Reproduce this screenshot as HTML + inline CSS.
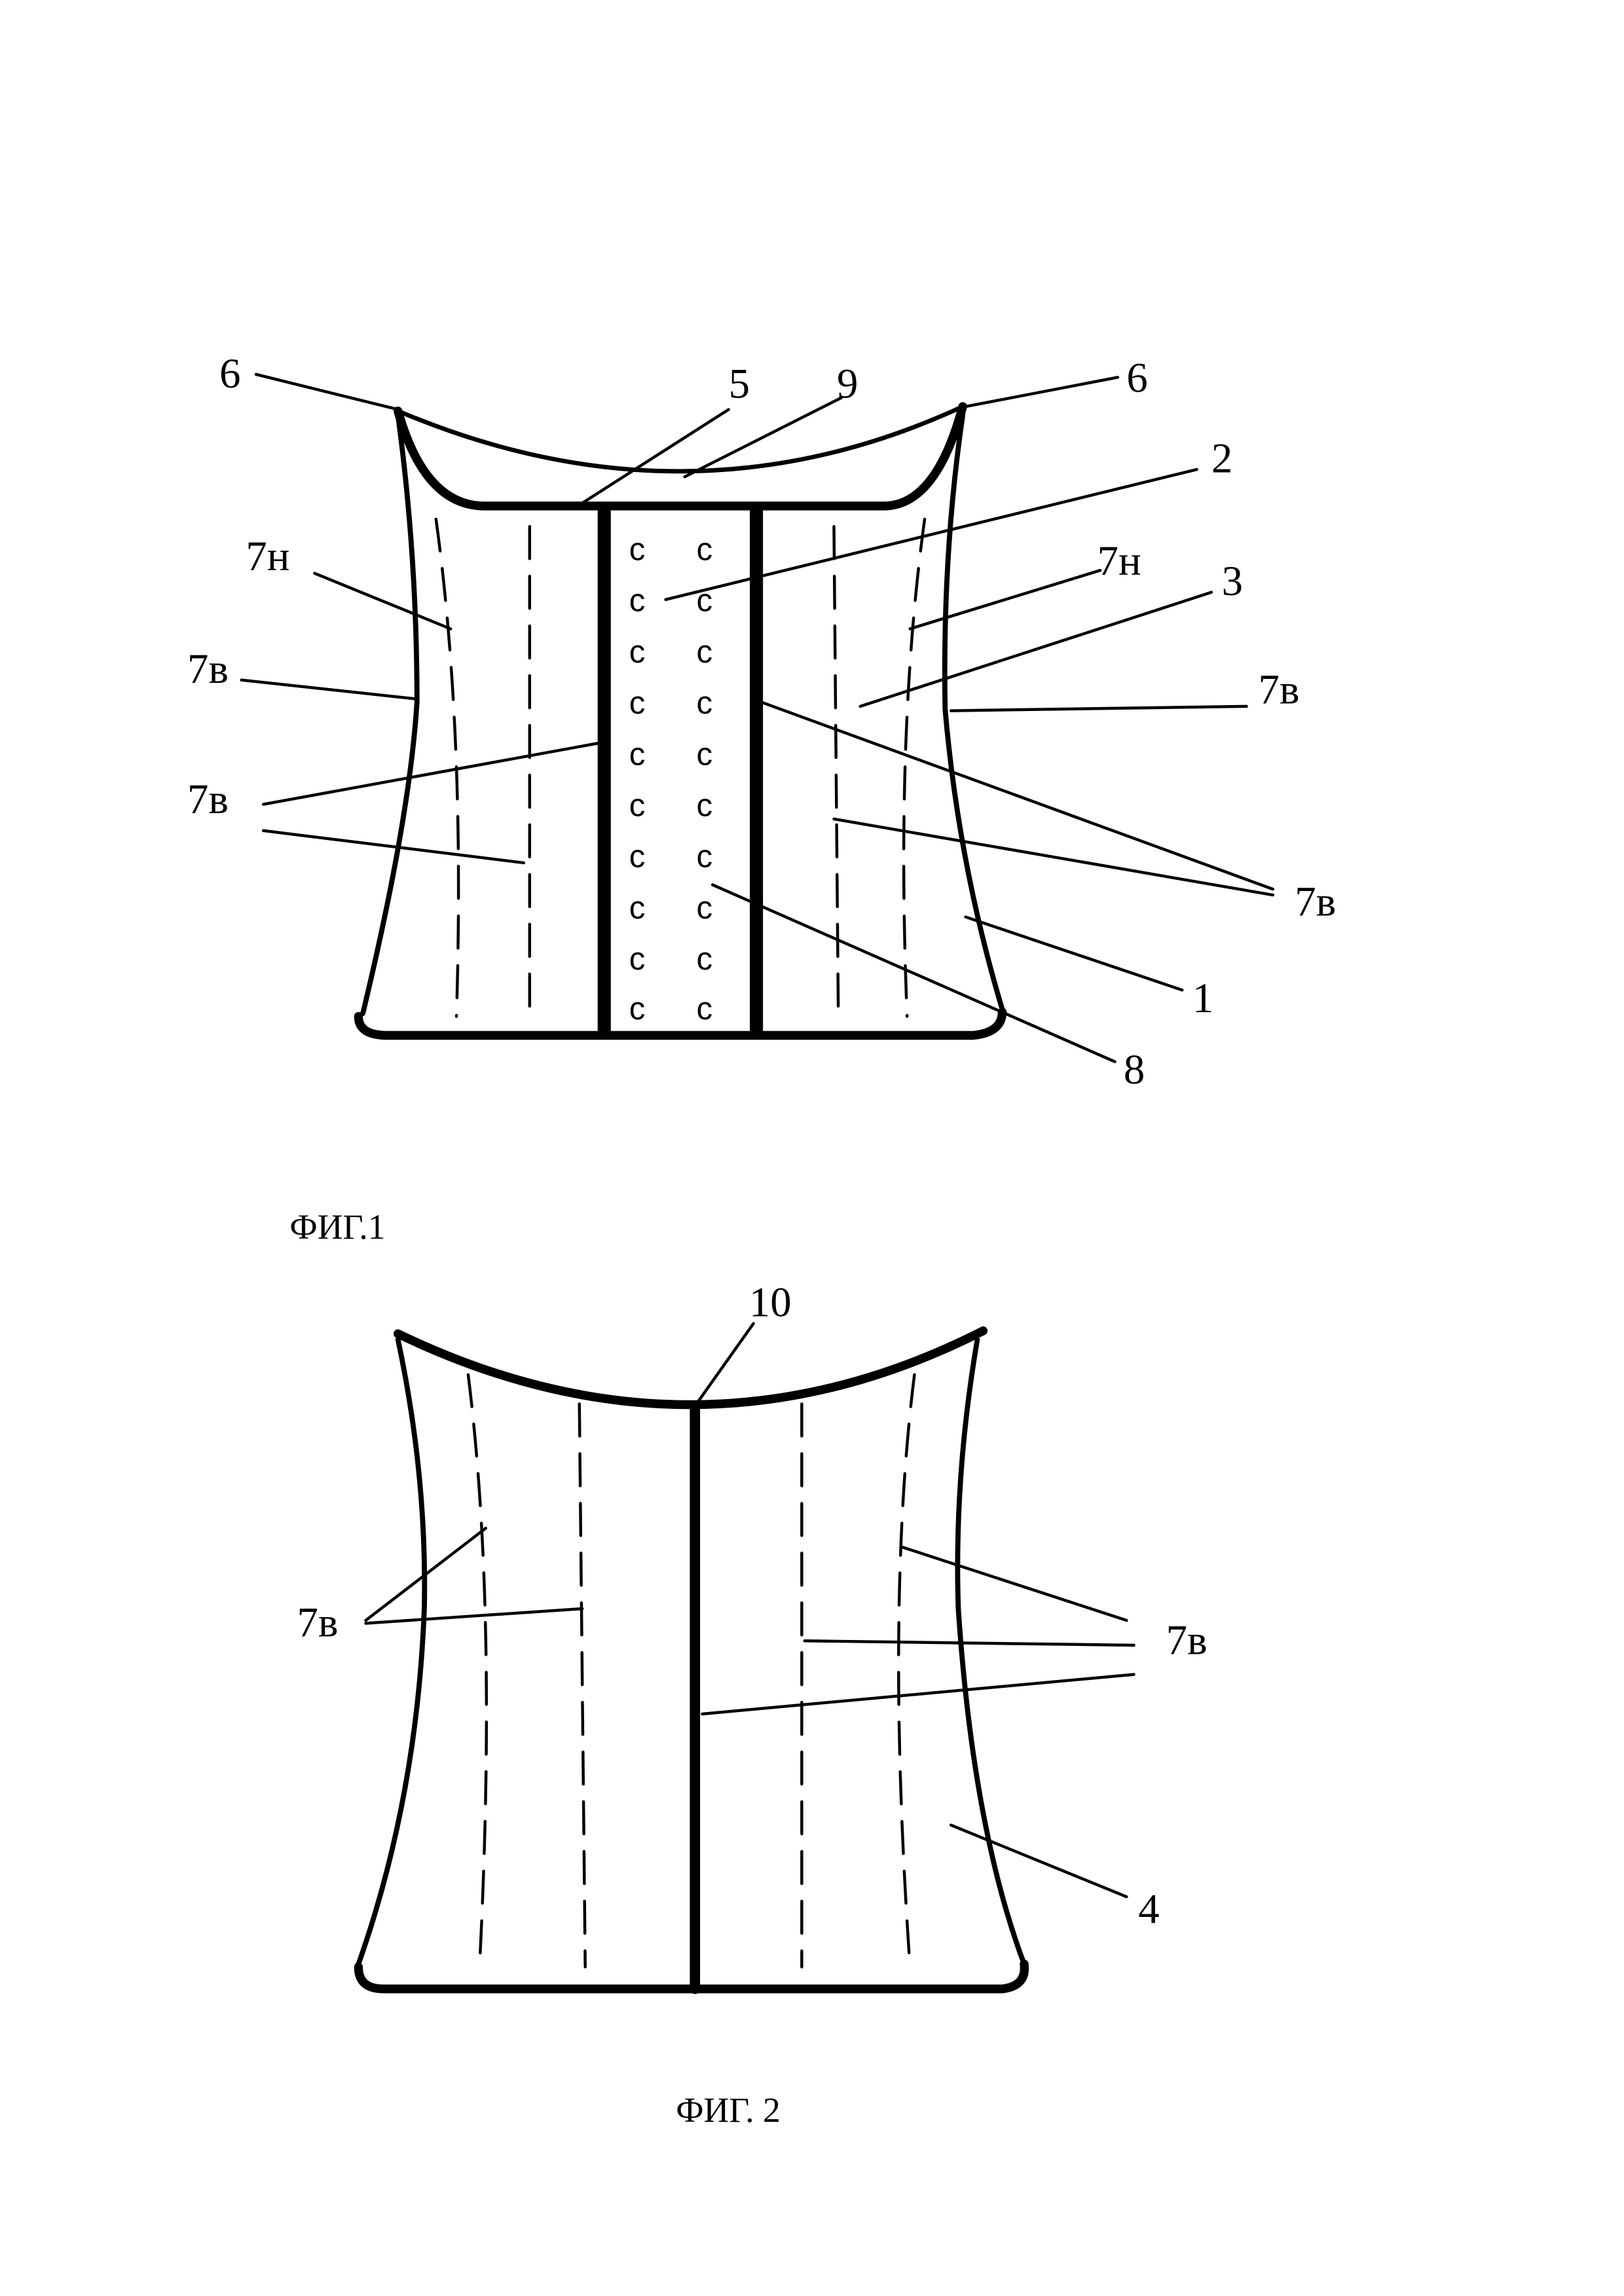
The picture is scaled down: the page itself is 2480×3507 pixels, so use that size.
<!DOCTYPE html>
<html><head><meta charset="utf-8"><style>
html,body{margin:0;padding:0;background:#fff;}
svg{display:block;}
text{font-family:"Liberation Serif",serif;font-size:29px;fill:#000;}
</style></head><body>
<svg width="2480" height="3507" viewBox="0 0 1110 1570" preserveAspectRatio="none" xmlns="http://www.w3.org/2000/svg">
<rect width="1110" height="1570" fill="#fff"/>
<g fill="none" stroke="#000" stroke-linecap="round" stroke-linejoin="round">
<!-- FIG 1 -->
<path d="M272,281 Q470,365 658,278" stroke-width="3"/>
<path d="M272,281 Q290,345 330,346 L605,346 Q640,345 658,278" stroke-width="6"/>
<path d="M272,284 Q285,380 285,480 Q280,560 248,693" stroke-width="3.5"/>
<path d="M658,284 Q644,380 646,485 Q655,590 685,690" stroke-width="3.5"/>
<path d="M245,695 Q245,708 265,708 L665,708 Q685,706 685,692" stroke-width="6"/>
<line x1="413" y1="350" x2="413" y2="705" stroke-width="9"/>
<line x1="517" y1="350" x2="517" y2="705" stroke-width="9"/>
<g stroke-width="2" stroke-dasharray="22,12">
<path d="M298,355 Q318,500 312,695"/>
<path d="M362,360 L362,695"/>
<path d="M570,360 L573,695"/>
<path d="M632,355 Q612,500 620,695"/>
</g>
<g stroke-width="2">
<line x1="175" y1="256" x2="272" y2="280"/>
<line x1="498" y1="280" x2="398" y2="344"/>
<line x1="575" y1="272" x2="468" y2="326"/>
<line x1="764" y1="258" x2="660" y2="278"/>
<line x1="818" y1="321" x2="455" y2="410"/>
<line x1="215" y1="392" x2="308" y2="430"/>
<line x1="752" y1="390" x2="622" y2="430"/>
<line x1="828" y1="405" x2="588" y2="483"/>
<line x1="165" y1="465" x2="285" y2="478"/>
<line x1="852" y1="483" x2="650" y2="486"/>
<line x1="180" y1="550" x2="410" y2="508"/>
<line x1="180" y1="568" x2="358" y2="590"/>
<line x1="870" y1="608" x2="520" y2="480"/>
<line x1="870" y1="612" x2="570" y2="560"/>
<line x1="808" y1="677" x2="660" y2="627"/>
<line x1="762" y1="726" x2="487" y2="605"/>
</g>
<!-- FIG 2 -->
<path d="M272,912 Q475,1010 672,910" stroke-width="6"/>
<path d="M272,916 Q292,1010 290,1100 Q285,1230 245,1343" stroke-width="3.5"/>
<path d="M668,916 Q652,1010 655,1100 Q665,1250 700,1343" stroke-width="3.5"/>
<path d="M245,1345 Q245,1360 262,1360 L685,1360 Q702,1358 700,1343" stroke-width="6"/>
<line x1="475" y1="963" x2="475" y2="1360" stroke-width="7"/>
<g stroke-width="2" stroke-dasharray="22,12">
<path d="M320,940 Q340,1100 328,1340"/>
<path d="M396,960 L400,1345"/>
<path d="M548,960 L548,1345"/>
<path d="M625,940 Q605,1100 622,1345"/>
</g>
<g stroke-width="2">
<line x1="515" y1="905" x2="476" y2="960"/>
<line x1="250" y1="1108" x2="332" y2="1045"/>
<line x1="250" y1="1110" x2="398" y2="1100"/>
<line x1="770" y1="1108" x2="617" y2="1058"/>
<line x1="775" y1="1125" x2="550" y2="1122"/>
<line x1="775" y1="1145" x2="480" y2="1172"/>
<line x1="770" y1="1297" x2="650" y2="1248"/>
</g>
</g>
<!-- hooks -->
<g font-family="Liberation Sans, sans-serif">
<text x="430" y="383" style="font-size:22px;font-family:'Liberation Sans',sans-serif">c</text><text x="476" y="383" style="font-size:22px;font-family:'Liberation Sans',sans-serif">c</text>
<text x="430" y="418" style="font-size:22px;font-family:'Liberation Sans',sans-serif">c</text><text x="476" y="418" style="font-size:22px;font-family:'Liberation Sans',sans-serif">c</text>
<text x="430" y="453" style="font-size:22px;font-family:'Liberation Sans',sans-serif">c</text><text x="476" y="453" style="font-size:22px;font-family:'Liberation Sans',sans-serif">c</text>
<text x="430" y="488" style="font-size:22px;font-family:'Liberation Sans',sans-serif">c</text><text x="476" y="488" style="font-size:22px;font-family:'Liberation Sans',sans-serif">c</text>
<text x="430" y="523" style="font-size:22px;font-family:'Liberation Sans',sans-serif">c</text><text x="476" y="523" style="font-size:22px;font-family:'Liberation Sans',sans-serif">c</text>
<text x="430" y="558" style="font-size:22px;font-family:'Liberation Sans',sans-serif">c</text><text x="476" y="558" style="font-size:22px;font-family:'Liberation Sans',sans-serif">c</text>
<text x="430" y="593" style="font-size:22px;font-family:'Liberation Sans',sans-serif">c</text><text x="476" y="593" style="font-size:22px;font-family:'Liberation Sans',sans-serif">c</text>
<text x="430" y="628" style="font-size:22px;font-family:'Liberation Sans',sans-serif">c</text><text x="476" y="628" style="font-size:22px;font-family:'Liberation Sans',sans-serif">c</text>
<text x="430" y="663" style="font-size:22px;font-family:'Liberation Sans',sans-serif">c</text><text x="476" y="663" style="font-size:22px;font-family:'Liberation Sans',sans-serif">c</text>
<text x="430" y="697" style="font-size:22px;font-family:'Liberation Sans',sans-serif">c</text><text x="476" y="697" style="font-size:22px;font-family:'Liberation Sans',sans-serif">c</text>
</g>
<!-- labels fig1 -->
<text x="150" y="265">6</text>
<text x="498" y="272">5</text>
<text x="572" y="272">9</text>
<text x="770" y="268">6</text>
<text x="828" y="323">2</text>
<text x="168" y="390">7н</text>
<text x="750" y="393">7н</text>
<text x="835" y="407">3</text>
<text x="128" y="467">7в</text>
<text x="860" y="481">7в</text>
<text x="128" y="556">7в</text>
<text x="885" y="626">7в</text>
<text x="815" y="692">1</text>
<text x="768" y="741">8</text>
<text x="198" y="847" style="font-size:24px">ФИГ.1</text>
<!-- labels fig2 -->
<text x="512" y="900">10</text>
<text x="203" y="1119">7в</text>
<text x="797" y="1131">7в</text>
<text x="778" y="1315">4</text>
<text x="462" y="1451" style="font-size:24px">ФИГ. 2</text>
</svg>
</body></html>
